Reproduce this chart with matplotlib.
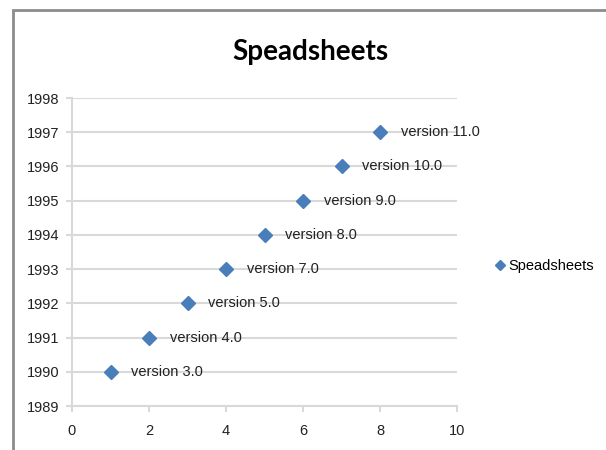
import matplotlib.pyplot as plt
from matplotlib.patches import Rectangle

# data
version_idx = [1, 2, 3, 4, 5, 6, 7, 8]
years = [1990, 1991, 1992, 1993, 1994, 1995, 1996, 1997]
labels = ["version 3.0", "version 4.0", "version 5.0", "version 7.0",
          "version 8.0", "version 9.0", "version 10.0", "version 11.0"]
series_name = "Speadsheets"

blue = "#4A7EBB"
grid_c = "#D9D9D9"

fig = plt.figure(figsize=(6.06, 4.5), dpi=100)
ax = fig.add_axes([72/606, 1 - 406/450, (457 - 72)/606, (406 - 98)/450])

ax.plot(version_idx, years, linestyle="none", marker="D", markersize=7.5,
        color=blue, label=series_name, zorder=3)
for x, y, s in zip(version_idx, years, labels):
    ax.annotate(s, (x, y), xytext=(15, 0), textcoords="offset points",
                va="center", ha="left", fontsize=10.5, family="Liberation Sans",
                color="#222222")

ax.set_xlim(0, 10)
ax.set_ylim(1989, 1998)
ax.set_xticks(range(0, 11, 2))
ax.set_yticks(range(1989, 1999))
ax.yaxis.grid(True, color=grid_c, linewidth=1.5)
ax.set_axisbelow(True)
for sp in ["top", "right", "bottom"]:
    ax.spines[sp].set_visible(False)
ax.spines["left"].set_color(grid_c)
ax.spines["left"].set_linewidth(1.5)
ax.tick_params(axis="both", colors=grid_c, width=1.5, length=4,
               labelcolor="#222222", labelsize=10.5)
ax.tick_params(axis="x", pad=9)
ax.tick_params(axis="y", pad=5)
for t in ax.get_xticklabels() + ax.get_yticklabels():
    t.set_family("Liberation Sans")

# x axis baseline drawn as gridline at bottom
ax.axhline(1989, color=grid_c, linewidth=1.5, zorder=1, clip_on=False)

fig.text(0.512, 1 - 52/450, "Speadsheets", ha="center", va="center",
         fontsize=20, fontweight="bold", family="Lato")

leg = fig.legend(loc="center left", bbox_to_anchor=(482/606, 1 - 266/450),
                 frameon=False, handlelength=0.6, handletextpad=0.3,
                 markerscale=0.7, prop={"family": "Liberation Sans", "size": 10.5})

fig.patches.append(Rectangle((13/606, -0.1), 1.1, 1 - 10/450 + 0.1,
                             transform=fig.transFigure, fill=False,
                             edgecolor="#8C8C8C", linewidth=2))

fig.savefig("out.png", dpi=100)
